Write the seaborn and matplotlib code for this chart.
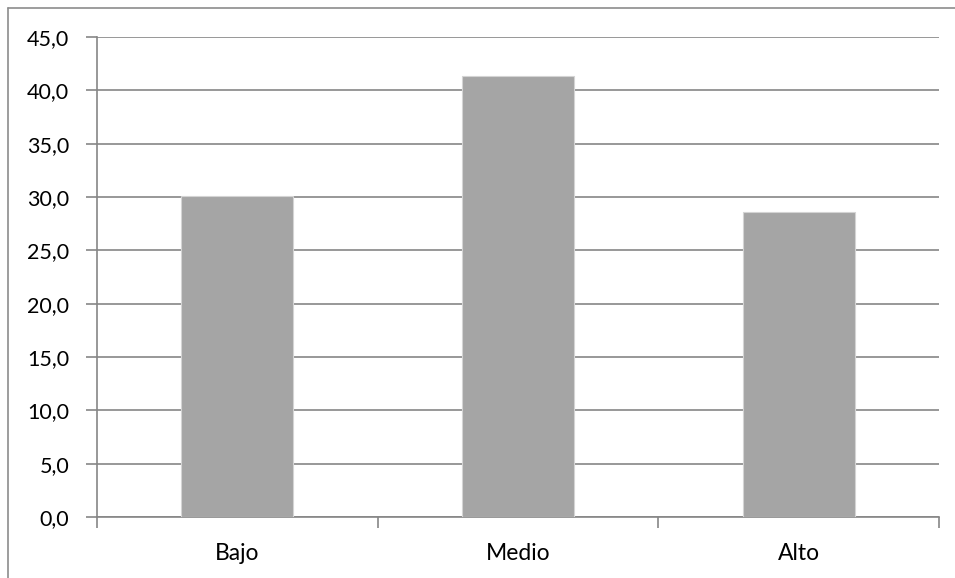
import matplotlib
matplotlib.use("Agg")
import matplotlib.pyplot as plt
from matplotlib.lines import Line2D
from matplotlib.ticker import MultipleLocator, FuncFormatter, FixedLocator
import seaborn as sns
import pandas as pd

categories = ["Bajo", "Medio", "Alto"]
values = [30.1, 41.3, 28.6]

df = pd.DataFrame({"nivel": categories, "porcentaje": values})

sns.set_theme(style="white")
plt.rcParams["font.family"] = ["Lato", "DejaVu Sans"]

W, H = 955, 578
fig = plt.figure(figsize=(W / 100, H / 100), dpi=100)
ax = fig.add_axes([97 / W, 1 - 517 / H, (939 - 97) / W, (517 - 37) / H])

sns.barplot(data=df, x="nivel", y="porcentaje", color="#A5A5A5",
            width=0.4, saturation=1, ax=ax, zorder=3,
            edgecolor="#D4D4D4", linewidth=0.8)

grid_color = "#868686"
ax.set_ylim(0, 45)
ax.set_xlim(-0.5, 2.5)
ax.yaxis.set_major_locator(MultipleLocator(5))
ax.yaxis.set_major_formatter(FuncFormatter(lambda v, p: f"{v:.1f}".replace(".", ",")))
ax.grid(axis="y", color=grid_color, linewidth=1.2, zorder=0)
ax.set_axisbelow(True)

ax.xaxis.set_minor_locator(FixedLocator([-0.5, 0.5, 1.5, 2.5]))
ax.tick_params(axis="x", which="major", length=0, pad=19, labelsize=16.5, colors="black")
ax.tick_params(axis="x", which="minor", length=8, width=1.2, color=grid_color, direction="out", bottom=True)
ax.tick_params(axis="y", which="major", length=8, width=1.2, color=grid_color, direction="out",
               left=True, pad=12, labelsize=15.5, labelcolor="black")

for side in ["top", "right"]:
    ax.spines[side].set_visible(False)
for side in ["left", "bottom"]:
    ax.spines[side].set_color(grid_color)
    ax.spines[side].set_linewidth(1.2)

ax.set_xlabel("")
ax.set_ylabel("")

# chart-area frame (top and left edges)
fig.add_artist(Line2D([8 / W, 1.0], [1 - 8 / H, 1 - 8 / H], transform=fig.transFigure,
                      color="#8C8C8C", linewidth=1.2))
fig.add_artist(Line2D([8 / W, 8 / W], [0.0, 1 - 8 / H], transform=fig.transFigure,
                      color="#8C8C8C", linewidth=1.2))

fig.savefig("out.png", dpi=100, facecolor="white")
